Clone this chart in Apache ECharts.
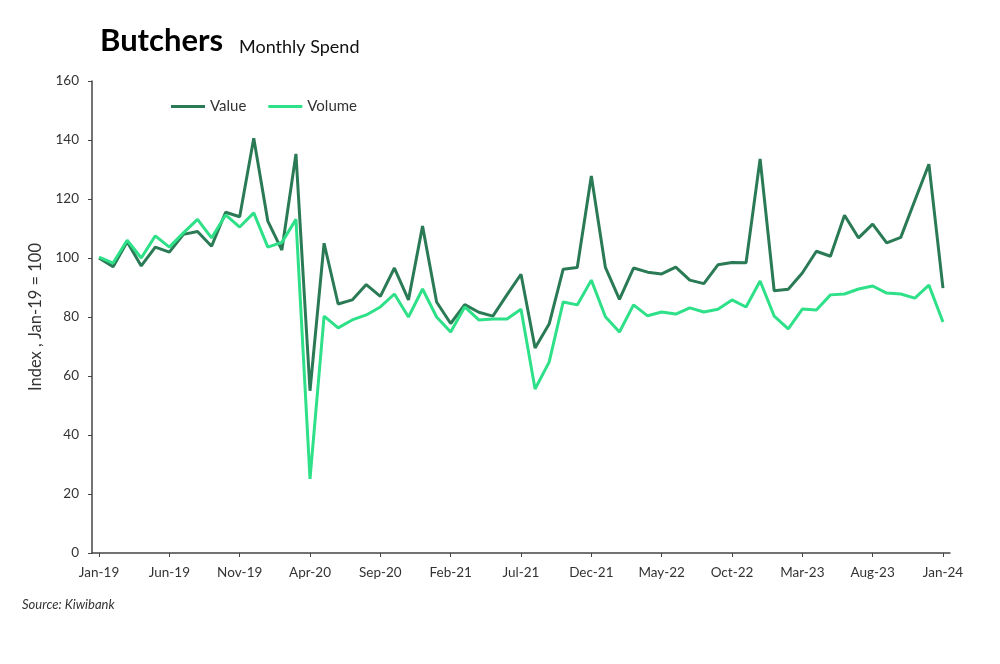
<!DOCTYPE html>
<html>
<head>
<meta charset="utf-8">
<script src="https://cdn.jsdelivr.net/npm/echarts@6/dist/echarts.min.js"></script>
<style>
html,body{margin:0;padding:0;background:#fff;}
#c{width:1000px;height:664px;}
</style>
</head>
<body>
<div id="c"></div>
<script>
const months = [
 'Jan-19','Feb-19','Mar-19','Apr-19','May-19','Jun-19','Jul-19','Aug-19','Sep-19','Oct-19','Nov-19','Dec-19',
 'Jan-20','Feb-20','Mar-20','Apr-20','May-20','Jun-20','Jul-20','Aug-20','Sep-20','Oct-20','Nov-20','Dec-20',
 'Jan-21','Feb-21','Mar-21','Apr-21','May-21','Jun-21','Jul-21','Aug-21','Sep-21','Oct-21','Nov-21','Dec-21',
 'Jan-22','Feb-22','Mar-22','Apr-22','May-22','Jun-22','Jul-22','Aug-22','Sep-22','Oct-22','Nov-22','Dec-22',
 'Jan-23','Feb-23','Mar-23','Apr-23','May-23','Jun-23','Jul-23','Aug-23','Sep-23','Oct-23','Nov-23','Dec-23',
 'Jan-24'
];
const valueSeries = [
 100, 97, 105.5, 97.3, 103.7, 102, 108, 109, 104, 115.5, 114, 140.6,
 112.5, 102.7, 135.3, 55, 105, 84.4, 85.8, 91, 87, 96.6, 85.8, 110.8,
 85.1, 77.8, 84.2, 81.6, 80.3, 87.5, 94.5, 69.5, 77.6, 96.2, 96.8, 127.8,
 96.8, 86, 96.6, 95.2, 94.6, 96.9, 92.5, 91.3, 97.7, 98.5, 98.4, 133.6,
 88.9, 89.4, 94.9, 102.3, 100.6, 114.5, 106.8, 111.5, 105.1, 107, 119.5, 131.8,
 89.8
];
const volumeSeries = [
 100.3, 98.3, 106, 100, 107.5, 103.7, 108.5, 113.1, 106.8, 114.6, 110.5, 115.3,
 103.7, 105.3, 113.1, 25.1, 80.3, 76.3, 79, 80.7, 83.4, 87.8, 80, 89.5,
 80, 74.9, 83.4, 79, 79.3, 79.3, 82.6, 55.6, 64.7, 85.1, 84.1, 92.5,
 80.1, 74.9, 84.1, 80.4, 81.7, 81, 83.1, 81.7, 82.6, 85.8, 83.4, 92.2,
 80.3, 76, 82.7, 82.4, 87.5, 87.8, 89.5, 90.5, 88.1, 87.8, 86.4, 90.8,
 78.3
];
const yTicks = [0, 20, 40, 60, 80, 100, 120, 140, 160];

const font = 'Lato, "DejaVu Sans", sans-serif';
const chart = echarts.init(document.getElementById('c'), null, {renderer:'canvas'});
chart.setOption({
  backgroundColor:'#ffffff',
  animation:false,
  title:[
    {text:'Butchers', left:95, top:20, textStyle:{fontFamily:font, fontWeight:'bold', fontSize:31, color:'#000'}},
    {text:'Monthly Spend', left:234, top:33, textStyle:{fontFamily:font, fontWeight:'normal', fontSize:18, color:'#111'}},
    {text:'Source: Kiwibank', left:17, top:593, textStyle:{fontFamily:font, fontStyle:'italic', fontWeight:'normal', fontSize:13, color:'#333'}}
  ],
  legend:{
    left:166, top:94, itemWidth:34, itemHeight:3, itemGap:22, icon:'rect',
    textStyle:{fontFamily:font, fontSize:15, color:'#333'},
    data:['Value','Volume']
  },
  grid:{left:92, right:50, top:81, bottom:111, containLabel:false},
  xAxis:{
    type:'category', data:months, boundaryGap:true,
    axisLine:{lineStyle:{color:'#444', width:1.5}},
    axisTick:{show:true, alignWithLabel:true, interval:4, length:4, lineStyle:{color:'#444'}},
    axisLabel:{interval:4, fontFamily:font, fontSize:13.5, color:'#333', margin:13}
  },
  yAxis:{
    type:'value', min:0, max:160, interval:20,
    name:'Index , Jan-19 = 100', nameLocation:'middle', nameGap:46, nameRotate:90,
    nameTextStyle:{fontFamily:font, fontSize:16.5, color:'#333'},
    axisLine:{show:true, lineStyle:{color:'#444', width:1.5}},
    axisTick:{show:true, length:4, lineStyle:{color:'#444'}},
    splitLine:{show:false},
    axisLabel:{fontFamily:font, fontSize:13.5, color:'#333', margin:13,
      formatter:function(v){return yTicks.indexOf(v)>=0 ? String(v) : '';}}
  },
  series:[
    {name:'Value', type:'line', data:valueSeries, showSymbol:false, symbol:'none',
     lineStyle:{color:'#2a7b55', width:3}, itemStyle:{color:'#2a7b55'}},
    {name:'Volume', type:'line', data:volumeSeries, showSymbol:false, symbol:'none',
     lineStyle:{color:'#2ee088', width:3}, itemStyle:{color:'#2ee088'}}
  ]
});
</script>
</body>
</html>
